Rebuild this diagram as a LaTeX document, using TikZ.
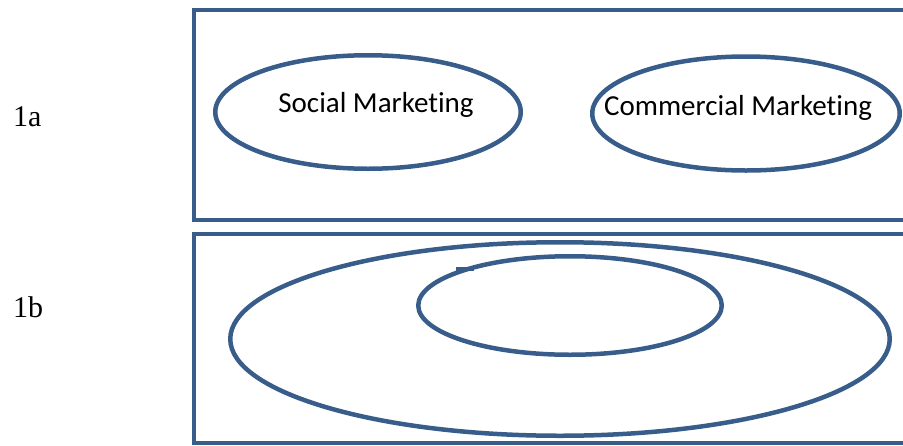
\documentclass[tikz,border=0pt]{standalone}
\usepackage{fontspec}
\setmainfont{Liberation Serif}
\newfontfamily\calib[Ligatures=NoCommon]{Carlito}
\usetikzlibrary{shapes.geometric}
\definecolor{frameblue}{RGB}{56,93,138}
\tikzset{
  panel/.style={draw=frameblue, line width=4.5pt},
  oval/.style={ellipse, draw=frameblue, line width=4.5pt, inner sep=0pt, outer sep=0pt},
  ovaltext/.style={anchor=base, font=\calib\fontsize{29}{34}\selectfont, inner sep=0pt},
  rowlabel/.style={anchor=base west, font=\fontsize{30}{36}\selectfont, inner sep=0pt}
}
\begin{document}
\begin{tikzpicture}[x=1pt, y=-1pt]
\useasboundingbox (0,0) rectangle (903,445);
\begin{scope}
\clip (0,0) rectangle (903,445);
\draw[panel] (194,10) rectangle (920,220);
\draw[panel] (194,234) rectangle (920,443);
\node[oval, minimum width=305.5pt, minimum height=113.5pt] (social) at (368,112) {};
\node[oval, minimum width=307.5pt, minimum height=114pt] (commercial) at (746,113.5) {};
\node[oval, minimum width=659.5pt, minimum height=193.5pt] (outer) at (560,339) {};
\node[oval, minimum width=303.5pt, minimum height=98.5pt] (inner) at (570,305.5) {};
\fill[frameblue] (456,267) rectangle (474,271);
\end{scope}
\node[ovaltext] (socialtxt) at (376,112) {Social Marketing};
\node[ovaltext] (commtxt) at (738,115) {Commercial Marketing};
\node[rowlabel] (la) at (13,126) {1a};
\node[rowlabel] (lb) at (13,317) {1b};
\end{tikzpicture}
\end{document}
